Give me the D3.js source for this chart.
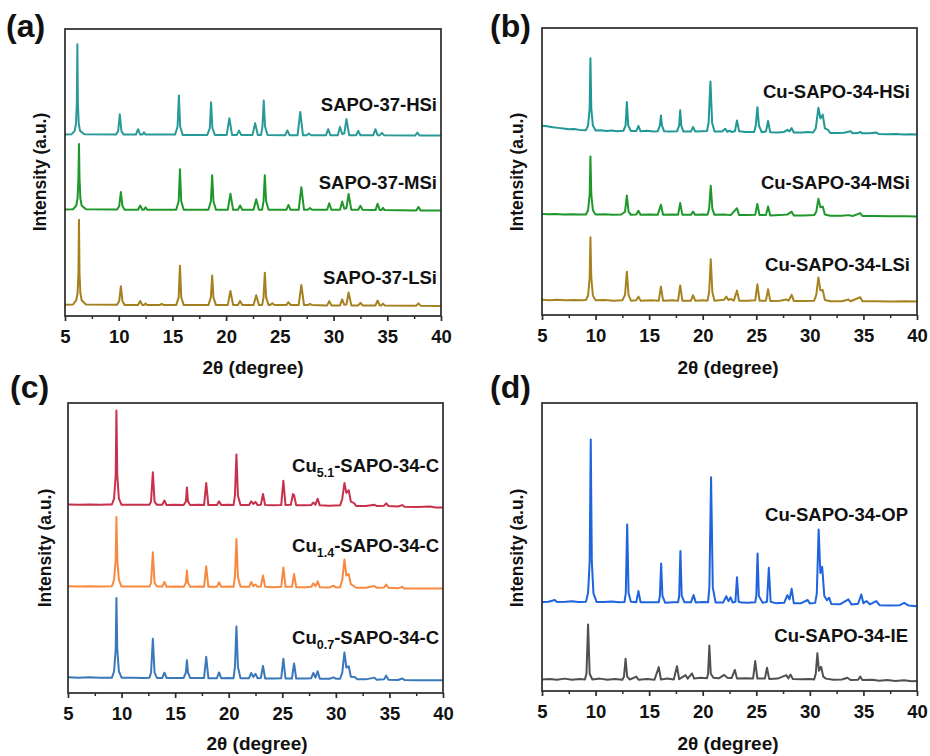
<!DOCTYPE html>
<html><head><meta charset="utf-8">
<script src="https://cdn.jsdelivr.net/npm/d3@7"></script>
<style>body{margin:0;background:#fff}svg{display:block}</style>
</head><body>
<svg id="chart" width="930" height="756"></svg>
<script>
// ---------------- DATA ----------------
const xTickValues = [5, 10, 15, 20, 25, 30, 35, 40];
const xMinorTickValues = [7.5, 12.5, 17.5, 22.5, 27.5, 32.5, 37.5];
const panelLetters = ["(a)", "(b)", "(c)", "(d)"];
const xTitle = "2θ (degree)";
const yTitle = "Intensity (a.u.)";

// series names: [main, subscript, suffix]
const namesA = [["SAPO-37-HSi","",""],["SAPO-37-MSi","",""],["SAPO-37-LSi","",""]];
const namesB = [["Cu-SAPO-34-HSi","",""],["Cu-SAPO-34-MSi","",""],["Cu-SAPO-34-LSi","",""]];
const namesC = [["Cu","5.1","-SAPO-34-C"],["Cu","1.4","-SAPO-34-C"],["Cu","0.7","-SAPO-34-C"]];
const namesD = [["Cu-SAPO-34-OP","",""],["Cu-SAPO-34-IE","",""]];

// traces: [2θ, intensity (a.u., stacked)]
const a_HSi = [[5,63.2],[5.6,63.3],[5.9,64.5],[6.02,67],[6.1,74],[6.15,94.7],[6.2,74],[6.28,67],[6.4,64.5],[6.8,63.3],
[9.75,63.2],[9.95,64.5],[10.1,70.3],[10.25,64.5],[10.45,63.2],[11.6,63.2],[11.8,65.1],[12.0,63.2],[12.2,63.2],[12.35,64.0],[12.5,63.2],
[15.25,63.2],[15.48,66],[15.6,76.8],[15.72,66],[15.95,63.1],[18.25,63.1],[18.48,65.5],[18.6,74.5],[18.72,65.5],[18.95,63.1],
[20.05,63.1],[20.3,68.9],[20.55,63.1],[21.0,63.1],[21.2,64.6],[21.4,63.1],[22.45,63.1],[22.7,67.2],[22.95,63.1],
[23.25,63.1],[23.38,66],[23.5,75.1],[23.62,66],[23.85,63.1],[25.5,63.0],[25.7,64.7],[25.9,63.0],[26.65,63.0],[26.9,71.1],[27.15,63.0],
[27.5,63.0],[27.7,63.6],[27.9,63.0],[29.3,63.0],[29.5,65.1],[29.7,63.0],[30.4,63.0],[30.6,65.9],[30.8,63.4],[31.0,63.6],[31.2,68.6],[31.45,63.0],
[32.1,63.0],[32.3,64.5],[32.5,63.0],[33.7,63.0],[33.9,65.1],[34.1,63.0],[34.3,63.0],[34.5,63.8],[34.7,63.0],
[37.6,62.9],[37.8,63.9],[38.0,62.9],[40,62.9]];
const a_MSi = [[5,37.1],[5.75,37.2],[6.05,38.5],[6.17,41],[6.25,48],[6.3,59.9],[6.35,48],[6.43,41],[6.55,38.5],[6.95,37.2],
[9.85,37.1],[10.05,38.3],[10.2,43.2],[10.35,38.3],[10.55,37.0],[11.8,37.0],[12.0,38.5],[12.2,37.0],[12.35,37.0],[12.5,37.9],[12.65,37.0],
[15.35,37.0],[15.58,40],[15.7,51.1],[15.82,40],[16.05,37.0],[18.35,37.0],[18.58,40],[18.7,49.0],[18.82,40],[19.05,37.0],
[20.15,37.0],[20.4,42.6],[20.65,37.0],[21.1,37.0],[21.3,38.5],[21.5,37.0],[22.55,37.0],[22.8,40.7],[23.05,37.0],
[23.35,37.0],[23.48,40],[23.6,49.0],[23.72,40],[23.95,37.0],[25.6,37.0],[25.8,38.7],[26.0,37.0],[26.75,37.0],[27.0,44.9],[27.25,37.0],
[27.6,37.0],[27.8,37.6],[28.0,37.0],[29.4,37.0],[29.6,39.3],[29.8,37.0],[30.6,37.0],[30.8,39.9],[31.0,37.4],[31.2,37.6],[31.4,42.5],[31.65,37.0],
[32.3,37.0],[32.5,38.4],[32.7,37.0],[33.9,36.9],[34.1,39.1],[34.3,36.9],[34.45,36.9],[34.6,37.7],[34.75,36.9],
[37.7,36.8],[37.9,38.0],[38.1,36.8],[40,36.8]];
const a_LSi = [[5,3.9],[5.75,4.0],[6.05,5.5],[6.17,8],[6.25,15],[6.3,33.5],[6.35,15],[6.43,8],[6.55,5.5],[6.95,4.0],
[9.85,3.9],[10.05,5.2],[10.2,10.4],[10.35,5.2],[10.55,3.8],[11.8,3.8],[12.0,5.2],[12.2,3.8],[12.35,3.8],[12.5,4.4],[12.65,3.8],
[13.8,3.8],[14.0,4.2],[14.2,3.8],[15.35,3.8],[15.58,6.5],[15.7,17.5],[15.82,6.5],[16.05,3.8],[18.35,3.8],[18.58,6.5],[18.7,14.1],[18.82,6.5],[19.05,3.8],
[20.15,3.8],[20.4,8.7],[20.65,3.8],[21.1,3.8],[21.3,5.2],[21.5,3.8],[22.55,3.8],[22.8,7.2],[23.05,3.8],
[23.35,3.8],[23.48,6.5],[23.6,15.1],[23.72,6.5],[23.95,3.8],[24.1,3.8],[24.3,4.4],[24.5,3.8],[25.6,3.8],[25.8,4.8],[26.0,3.8],
[26.75,3.8],[27.0,10.8],[27.25,3.8],[27.6,3.8],[27.8,4.2],[28.0,3.8],[29.4,3.7],[29.6,5.2],[29.8,3.7],
[30.6,3.7],[30.8,5.8],[31.0,3.9],[31.2,4.0],[31.4,8.2],[31.65,3.7],[32.3,3.7],[32.5,4.6],[32.7,3.7],
[33.9,3.7],[34.1,5.4],[34.3,3.7],[34.45,3.7],[34.6,4.3],[34.75,3.7],[37.7,3.6],[37.9,4.4],[38.1,3.6],[40,3.5]];

const b_HSi = [[5,65.9],[5.5,65.8],[6,65.4],[6.5,65.2],[7,65.0],[7.5,64.7],[8,64.8],[8.5,64.5],[9.1,64.4],
[9.3,66],[9.45,72],[9.52,89.5],[9.6,72],[9.75,66],[10,64.3],[10.5,64.4],[11,64.1],[11.5,64.3],[12,64.0],[12.6,64.2],
[12.8,66],[12.92,74.2],[13.05,66],[13.3,64.1],[13.8,64.1],[14.0,65.9],[14.2,64.0],[14.8,64.2],[15.4,63.9],[15.8,64.0],
[16.0,66],[16.1,69.5],[16.2,66],[16.4,64.0],[17.0,63.9],[17.6,64.0],[17.8,66],[17.9,71.3],[18.0,66],[18.2,63.9],[18.9,63.9],
[19.1,65.5],[19.3,63.9],[19.9,64.0],[20.4,64.1],[20.55,67],[20.72,81.4],[20.88,67],[21.1,63.9],[21.8,63.9],
[22.1,64.9],[22.3,63.8],[22.5,64.2],[22.7,63.8],[23.0,64.0],[23.2,67.8],[23.4,64.0],[24.0,63.8],[24.8,63.8],
[24.95,66],[25.1,72.4],[25.25,66],[25.5,63.7],[25.9,63.9],[26.1,67.6],[26.3,63.7],[27.0,63.6],[27.6,63.8],
[27.9,64.5],[28.1,64.0],[28.3,65.1],[28.5,63.6],[29.3,63.6],[29.8,63.8],[30.3,63.6],
[30.55,65],[30.8,72.2],[30.98,68.5],[31.2,69.8],[31.4,65],[31.7,64.5],[31.9,63.4],
[32.6,63.4],[33.2,63.5],[33.8,64.0],[34.0,63.3],[34.5,63.4],[34.7,63.8],[34.9,63.3],[35.6,63.3],
[36.2,63.6],[36.4,63.1],[37.2,63.0],[38,63.1],[38.8,62.9],[39.4,63.0],[40,62.9]];
const b_MSi = [[5,35.2],[5.6,35.1],[6.2,35.2],[7,35.0],[7.8,35.1],[8.5,35.0],[9.1,35.0],
[9.3,36.5],[9.45,42],[9.52,55.2],[9.6,42],[9.75,36.5],[10,35.0],[10.8,35.1],[11.6,34.9],[12.4,35.0],
[12.75,36],[12.92,41.6],[13.08,36],[13.3,34.9],[13.8,35.0],[14.0,36.3],[14.2,34.9],[15.0,35.0],[15.8,34.9],
[16.1,38.4],[16.3,34.9],[17.2,35.0],[17.7,34.9],[17.9,39.0],[18.1,34.9],[18.9,34.9],[19.1,36.0],[19.3,34.9],[20.0,35.0],[20.45,34.9],
[20.6,37],[20.75,45.0],[20.9,37],[21.1,34.9],[22.0,35.0],[22.6,34.8],[23.2,37.2],[23.4,34.8],[24.2,34.8],[24.9,34.9],
[25.1,38.7],[25.3,34.8],[25.9,34.8],[26.1,37.8],[26.3,34.7],[27.2,34.8],[27.9,35.0],[28.3,36.0],[28.5,34.7],[29.4,34.7],[30.4,34.8],
[30.6,36],[30.8,40.5],[30.98,37.5],[31.2,37.8],[31.4,35.0],[31.9,34.6],[33.0,34.6],[33.6,34.8],[34.0,34.5],
[34.7,35.5],[34.9,34.5],[36.0,34.5],[37.5,34.4],[39,34.4],[40,34.3]];
const b_LSi = [[5,5.3],[5.7,5.1],[6.4,5.3],[7.2,5.1],[8,5.2],[8.7,5.1],[9.1,5.2],
[9.3,6.8],[9.45,13],[9.52,27.1],[9.6,13],[9.75,6.8],[10,5.1],[10.8,5.2],[11.7,5.0],[12.5,5.1],
[12.75,7],[12.92,15.1],[13.08,7],[13.3,5.0],[13.8,5.1],[14.0,6.4],[14.2,5.0],[15.2,5.1],[15.9,5.0],
[16.1,9.9],[16.3,5.0],[17.2,5.1],[17.7,5.0],[17.9,10.3],[18.1,5.0],[18.9,5.0],[19.1,6.9],[19.3,5.0],[20.0,5.1],[20.45,5.0],
[20.6,8],[20.75,19.4],[20.9,8],[21.1,5.0],[22.0,5.3],[22.2,6.4],[22.4,5.2],[22.6,5.6],[22.9,5.0],
[23.2,8.5],[23.4,5.0],[24.2,5.0],[24.9,5.1],[25.1,10.7],[25.3,5.0],[25.9,5.0],[26.1,9.0],[26.3,4.9],[27.2,5.0],[27.8,5.4],[28.0,5.0],
[28.3,7.0],[28.5,4.9],[29.4,4.9],[30.4,5.0],[30.6,7],[30.8,13.1],[30.98,8.6],[31.2,8.7],[31.4,5.2],[31.9,4.8],[33.0,4.8],[33.6,5.4],[33.8,4.8],
[34.7,6.2],[34.9,4.8],[36.0,4.8],[37.5,4.7],[39,4.8],[40,4.7]];

const c_Cu51 = [[5,65.0],[6,64.9],[7,65.0],[8,64.9],[8.8,65.0],[9.1,65.0],
[9.3,67],[9.45,75],[9.52,97.4],[9.6,75],[9.75,67],[10,64.9],[11,64.9],[12,64.9],[12.6,64.9],
[12.75,66],[12.92,76.1],[13.08,66],[13.3,64.9],[13.8,64.9],[14.0,66.4],[14.2,64.8],[15.0,64.9],[15.8,64.8],
[16.0,66],[16.1,70.9],[16.2,66],[16.4,64.8],[17.2,64.9],[17.7,64.8],[17.9,72.4],[18.1,64.8],[18.9,64.8],[19.1,66.1],[19.3,64.8],[20.0,64.9],[20.45,64.8],
[20.58,68],[20.72,82.2],[20.86,68],[21.1,64.8],[21.9,64.8],[22.1,66.1],[22.3,65.2],[22.5,65.9],[22.7,64.8],
[23.0,64.9],[23.2,68.6],[23.4,64.8],[24.2,64.7],[24.9,64.8],[25.1,73.2],[25.3,64.8],[25.8,64.9],[26.0,68.6],[26.1,68.2],[26.3,64.7],[27.2,64.7],[27.7,64.8],
[27.9,65.7],[28.1,64.9],[28.3,67.0],[28.5,64.7],[29.4,64.6],[30.4,64.7],
[30.6,67],[30.8,72.4],[30.98,69.0],[31.2,69.9],[31.4,66.0],[31.7,65.5],[31.9,64.5],[32.8,64.5],
[33.6,64.9],[33.8,64.5],[34.5,64.6],[34.7,65.4],[34.9,64.5],[35.8,64.3],[36.2,64.8],[36.4,64.2],[37.6,64.1],[38.8,64.3],[39.3,64.0],[40,64.0]];
const c_Cu14 = [[5,36.8],[6,36.7],[7,36.8],[8,36.7],[9.1,36.8],
[9.3,39],[9.45,46],[9.52,60.7],[9.6,46],[9.75,39],[10,36.7],[11,36.7],[12,36.7],[12.6,36.7],
[12.75,38],[12.92,48.5],[13.08,38],[13.3,36.7],[13.8,36.7],[14.0,38.3],[14.2,36.6],[15.0,36.7],[15.8,36.6],
[16.0,38],[16.1,42.2],[16.2,38],[16.4,36.6],[17.2,36.7],[17.7,36.6],[17.9,43.7],[18.1,36.6],[18.9,36.6],[19.1,38.2],[19.3,36.6],[20.0,36.7],[20.45,36.6],
[20.58,40],[20.72,53.1],[20.86,40],[21.1,36.6],[21.9,36.6],[22.1,38.3],[22.3,36.8],[22.5,37.4],[22.7,36.6],
[23.0,36.7],[23.2,40.5],[23.4,36.6],[24.2,36.5],[24.9,36.6],[25.1,43.3],[25.3,36.6],[25.9,36.6],[26.1,41.0],[26.3,36.5],[27.2,36.5],[27.7,36.6],
[27.9,37.8],[28.1,36.8],[28.3,38.5],[28.5,36.5],[29.4,36.4],[29.8,37.0],[30.0,36.4],[30.4,36.5],
[30.6,39],[30.8,46.0],[30.98,40.5],[31.2,41.0],[31.4,37.5],[31.9,36.3],[32.8,36.3],
[33.6,36.9],[33.8,36.3],[34.5,36.4],[34.7,37.4],[34.9,36.3],[35.8,36.1],[36.2,36.6],[36.4,36.0],[37.6,36.0],[39,36.0],[40,36.0]];
const c_Cu07 = [[5,5.4],[6,5.3],[7,5.4],[8,5.3],[9.1,5.3],
[9.3,7.5],[9.45,15],[9.52,32.8],[9.6,15],[9.75,7.5],[10,5.3],[11,5.3],[12,5.2],[12.6,5.3],
[12.75,7],[12.92,18.7],[13.08,7],[13.3,5.2],[13.8,5.2],[14.0,7.0],[14.2,5.2],[15.0,5.2],[15.8,5.2],
[16.0,7],[16.1,11.3],[16.2,7],[16.4,5.2],[17.2,5.2],[17.7,5.2],[17.9,12.5],[18.1,5.1],[18.9,5.1],[19.1,7.1],[19.3,5.1],[20.0,5.2],[20.45,5.1],
[20.58,9],[20.72,22.9],[20.86,9],[21.1,5.1],[21.9,5.1],[22.1,6.9],[22.3,5.5],[22.5,6.6],[22.7,5.1],
[23.0,5.2],[23.2,9.3],[23.4,5.0],[24.2,5.0],[24.9,5.1],[25.1,11.8],[25.3,5.0],[25.9,5.0],[26.1,10.2],[26.3,5.0],[27.2,5.0],[27.7,5.1],
[27.9,6.9],[28.1,5.3],[28.3,7.5],[28.5,4.9],[29.4,4.9],[29.8,5.4],[30.0,4.9],[30.4,4.9],
[30.6,7],[30.8,14.0],[30.98,8.8],[31.2,9.2],[31.4,5.6],[31.8,5.4],[32.0,4.7],[32.8,4.7],
[33.6,5.3],[33.8,4.6],[34.5,4.7],[34.7,6.0],[34.9,4.6],[35.8,4.5],[36.2,5.0],[36.4,4.5],[37.6,4.4],[39,4.4],[40,4.4]];

const d_OP = [[5,30.9],[5.6,31.0],[6.2,31.6],[6.4,30.9],[7.2,31.0],[7.8,31.2],[8.4,30.9],[9.1,31.0],
[9.3,34],[9.45,45],[9.55,87.3],[9.65,45],[9.8,34],[10.1,30.9],[10.8,30.9],[11.5,31.1],[12.2,30.8],[12.7,30.9],
[12.82,34],[12.95,57.8],[13.08,34],[13.3,31.0],[13.8,30.8],[14.0,34.7],[14.2,30.8],[15.0,30.8],[15.9,30.8],
[16.0,33],[16.12,44.3],[16.24,33],[16.5,30.6],[17.2,30.8],[17.7,30.8],[17.8,33],[17.92,48.6],[18.04,33],[18.3,30.8],[18.9,30.8],
[19.15,33.3],[19.35,30.7],[20.0,30.9],[20.5,30.8],[20.62,36],[20.78,74.2],[20.94,36],[21.2,30.7],[21.9,30.7],
[22.2,32.9],[22.4,31.2],[22.6,32.5],[22.8,30.7],[23.05,31],[23.2,39.5],[23.35,31],[23.6,30.7],[24.2,30.6],[24.9,30.8],
[25.0,33],[25.12,47.7],[25.24,33],[25.6,30.6],[26.0,31],[26.17,42.8],[26.34,31],[26.8,30.5],[27.6,30.6],
[27.9,33.3],[28.1,31.8],[28.3,35.5],[28.5,30.5],[29.2,30.5],[29.8,31.6],[30.0,30.4],[30.5,30.6],
[30.65,34],[30.82,56.1],[30.98,41],[31.15,43.1],[31.35,33],[31.6,31.5],[31.8,32.4],[32.0,30.2],[32.8,30.1],
[33.6,31.8],[33.9,30.0],[34.5,30.3],[34.8,33.5],[35.0,30.5],[35.3,31.2],[35.6,30.1],[36.2,31.2],[36.5,29.8],
[37.5,29.7],[38.4,29.8],[38.8,30.6],[39.2,29.7],[40,29.4]];
const d_IE = [[5,4.0],[5.7,4.2],[6.4,3.9],[7.1,4.3],[7.8,3.9],[8.5,4.2],[9.0,4.0],
[9.15,6],[9.3,23.1],[9.45,6],[9.7,4.0],[10.4,4.3],[11.1,3.9],[11.8,4.2],[12.5,3.9],
[12.65,5],[12.8,11.2],[12.95,5],[13.2,4.0],[13.8,5.0],[14.0,3.9],[14.8,4.2],[15.5,3.9],
[15.9,8.3],[16.1,4.0],[16.7,4.3],[17.3,4.0],[17.6,8.6],[17.8,4.1],[18.4,5.5],[18.6,4.3],
[19.0,6.1],[19.2,4.3],[19.8,4.6],[20.4,4.4],[20.5,6],[20.62,15.8],[20.75,6],[21.0,4.6],[21.5,4.4],[22.0,5.6],[22.3,4.6],[22.7,4.5],
[23.0,7.3],[23.2,4.3],[24.0,4.4],[24.7,4.3],[24.9,10.4],[25.1,4.3],[25.8,4.3],[26.0,8.1],[26.2,4.2],
[27.0,4.3],[27.8,5.5],[28.0,4.4],[28.2,5.7],[28.4,4.2],[29.2,4.1],[30.0,4.2],[30.4,4.0],
[30.55,6],[30.7,13.1],[30.85,7],[31.05,8.4],[31.25,5],[31.5,4.3],[32.2,3.9],[33.0,4.0],
[33.5,4.6],[33.8,3.8],[34.5,3.9],[34.7,5.0],[34.9,3.8],[35.8,3.9],[36.5,3.6],[37.2,3.8],[38.0,3.5],[38.8,3.7],[39.5,3.4],[40,3.5]];

// ---------------- LAYOUT / STYLE ----------------
const FONT = "'Liberation Sans', Arial, Helvetica, sans-serif";
const panels = [
  {box:[65,441,29,316], letter:[6,37], ytitle:[40,172], xtitle:[253,374],
   series:[a_HSi,a_MSi,a_LSi], names:namesA, colors:["#2a9a99","#1f972a","#a4801f"],
   labels:[[437,111],[437,189],[437,284]]},
  {box:[542,917,28,315], letter:[490,37], ytitle:[517,172], xtitle:[728,374],
   series:[b_HSi,b_MSi,b_LSi], names:namesB, colors:["#1f9896","#1e982a","#a68220"],
   labels:[[910,98],[910,189],[910,271]]},
  {box:[68,443,403,693], letter:[10,398], ytitle:[45,548], xtitle:[257,750],
   series:[c_Cu51,c_Cu14,c_Cu07], names:namesC, colors:["#c8304c","#f78a40","#3a78ba"],
   labels:[[439,472],[439,552],[439,644]]},
  {box:[542,917,403,691], letter:[490,398], ytitle:[517,548], xtitle:[728,750],
   series:[d_OP,d_IE], names:namesD, colors:["#1e64dc","#505050"],
   labels:[[908,521],[908,642]]}
];

const svg = d3.select("#chart");

panels.forEach((p, i) => {
  const [x0, x1, y0, y1] = p.box;
  const x = d3.scaleLinear().domain([5, 40]).range([x0, x1]);
  const y = d3.scaleLinear().domain([0, 100]).range([y1, y0]);
  const g = svg.append("g");

  const line = d3.line().x(d => x(d[0])).y(d => y(d[1])).curve(d3.curveLinear);
  p.series.forEach((s, k) => {
    g.append("path").datum(s).attr("d", line)
      .attr("fill", "none").attr("stroke", p.colors[k])
      .attr("stroke-width", 2).attr("stroke-linejoin", "round");
  });

  // frame
  g.append("rect").attr("x", x0).attr("y", y0).attr("width", x1 - x0).attr("height", y1 - y0)
    .attr("fill", "none").attr("stroke", "#2a2a2a").attr("stroke-width", 1.7);

  // x axis
  const ax = g.append("g").attr("transform", `translate(0,${y1})`)
    .call(d3.axisBottom(x).tickValues(xTickValues).tickSize(5).tickPadding(9).tickFormat(d3.format("d")));
  ax.select(".domain").remove();
  ax.selectAll("line").attr("stroke", "#2a2a2a").attr("stroke-width", 1.7);
  ax.selectAll("text").attr("font-family", FONT).attr("font-size", 18.5).attr("font-weight", "bold").attr("fill", "#111");
  const axm = g.append("g").attr("transform", `translate(0,${y1})`)
    .call(d3.axisBottom(x).tickValues(xMinorTickValues).tickSize(3).tickFormat(""));
  axm.select(".domain").remove();
  axm.selectAll("line").attr("stroke", "#2a2a2a").attr("stroke-width", 1.5);

  // titles
  g.append("text").attr("x", p.xtitle[0]).attr("y", p.xtitle[1]).attr("text-anchor", "middle")
    .attr("font-family", FONT).attr("font-size", 19).attr("font-weight", "bold").attr("fill", "#111").text(xTitle);
  g.append("text").attr("transform", `translate(${p.ytitle[0] + 6},${p.ytitle[1]}) rotate(-90)`)
    .attr("text-anchor", "middle").attr("font-family", FONT).attr("font-size", 17.5)
    .attr("font-weight", "bold").attr("fill", "#111").text(yTitle);
  g.append("text").attr("x", p.letter[0]).attr("y", p.letter[1])
    .attr("font-family", FONT).attr("font-size", 32).attr("font-weight", "bold").attr("fill", "#111").text(panelLetters[i]);

  // series labels
  p.names.forEach((n, k) => {
    const t = g.append("text").attr("x", p.labels[k][0]).attr("y", p.labels[k][1]).attr("text-anchor", "end")
      .attr("font-family", FONT).attr("font-size", 18.5).attr("font-weight", "bold").attr("fill", "#111");
    t.append("tspan").text(n[0]);
    if (n[1]) {
      t.append("tspan").attr("font-size", 12.5).attr("dy", 5).text(n[1]);
      t.append("tspan").attr("dy", -5).text(n[2]);
    }
  });
});
</script>
</body></html>
